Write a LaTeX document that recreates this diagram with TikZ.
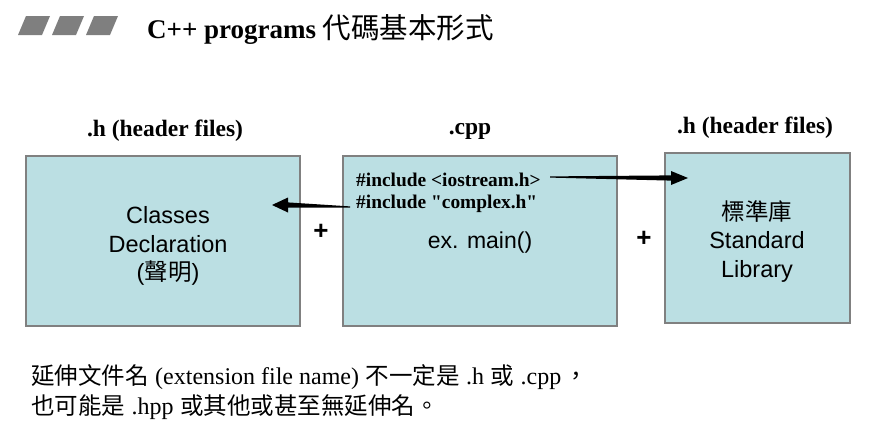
\documentclass[tikz,border=0pt]{standalone}
\usepackage{fontspec}
\setmainfont{Liberation Serif}
\setsansfont{Liberation Sans}
\newfontfamily\cjk{Noto Sans CJK TC}
\newfontfamily\plainserif{Liberation Serif}[Ligatures=TeXOff]
\usetikzlibrary{arrows.meta}
\definecolor{boxfill}{HTML}{BBDFE3}
\definecolor{boxline}{HTML}{808080}
\definecolor{barg}{HTML}{7F7F7F}
\newcommand{\gap}{\hspace{6.5pt}}
\newcommand{\zh}[1]{{\cjk\fontsize{23.5}{28}\selectfont #1}}
\begin{document}
\begin{tikzpicture}[x=1pt,y=-1pt,
  filebox/.style={draw=boxline,line width=1.3pt,fill=boxfill,inner sep=0pt},
  boxtext/.style={align=center,font=\sffamily\fontsize{23.5}{28.5}\selectfont},
  hdr/.style={font=\bfseries\fontsize{23.5}{26}\selectfont},
  incl/.style={anchor=west,inner sep=0pt,font=\plainserif\bfseries\fontsize{19.4}{22}\selectfont},
  plus/.style={font=\sffamily\bfseries\fontsize{26}{26}\selectfont},
  bar/.style={fill=barg},
  body/.style={anchor=west,inner sep=0pt,font=\fontsize{24}{28}\selectfont}]
\useasboundingbox (0,0) rectangle (896,434);
% title bars
\fill[bar] (18,35) -- (26,16) -- (50,16) -- (42,35) -- cycle;
\fill[bar] (52,35) -- (60,16) -- (84,16) -- (76,35) -- cycle;
\fill[bar] (86,35) -- (94,16) -- (118,16) -- (110,35) -- cycle;
\node[anchor=west,inner sep=0pt] (title) at (147,30)
  {\bfseries\fontsize{27}{30}\selectfont C++ programs {\cjk\mdseries\fontsize{28.5}{30}\selectfont 代碼基本形式}};
% boxes
\node[filebox,minimum width=274pt,minimum height=170pt] (hL) at (163,241) {};
\node[filebox,minimum width=274pt,minimum height=170pt] (cpp) at (480,241) {};
\node[filebox,minimum width=185pt,minimum height=170pt] (hR) at (757.5,238) {};
\node[boxtext] (tLbox) at (168,246) {Classes\\Declaration\\({\cjk 聲明})};
\node[boxtext] (tRbox) at (757,241) {{\cjk 標準庫}\\Standard\\Library};
% headers
\node[hdr] (tL) at (165,131) {.h (header files)};
\node[hdr] (tM) at (470,131) {.cpp};
\node[hdr] (tR) at (755,128) {.h (header files)};
% cpp contents
\node[incl] (inc1) at (356,180) {\#include <iostream.h>};
\node[incl] (inc2) at (356,204) {\#include "complex.h"};
\node[font=\sffamily\fontsize{23}{26}\selectfont] (mainf) at (480,243) {ex. main()};
% arrows (tapered)
\coordinate (a1s) at (550,177);
\coordinate (a1e) at (688,178);
\coordinate (a2s) at (350,207);
\coordinate (a2e) at (272,205);
\fill ([yshift=0.6pt]a1s) -- ([xshift=-17pt,yshift=2.6pt]a1e) -- ([xshift=-17pt,yshift=7pt]a1e)
  -- (a1e) -- ([xshift=-17pt,yshift=-7pt]a1e) -- ([xshift=-17pt,yshift=-2.6pt]a1e)
  -- ([yshift=-0.6pt]a1s) -- cycle;
\fill ([yshift=0.6pt]a2s) -- ([xshift=16pt,yshift=2.6pt]a2e) -- ([xshift=16pt,yshift=7.5pt]a2e)
  -- (a2e) -- ([xshift=16pt,yshift=-7.5pt]a2e) -- ([xshift=16pt,yshift=-2.6pt]a2e)
  -- ([yshift=-0.6pt]a2s) -- cycle;
% plus signs
\node[plus] (p1) at (321,232) {+};
\node[plus] (p2) at (644,239) {+};
% bottom text
\node[body] (n1) at (31,377) {\zh{延伸文件名}\gap(extension file name)\gap\zh{不一定是}\gap.h\gap\zh{或}\gap.cpp\hspace{3pt}\zh{，}};
\node[body] (n2) at (31,407) {\zh{也可能是}\gap.hpp\gap\zh{或其他或甚至無延伸名。}};
\end{tikzpicture}
\end{document}
